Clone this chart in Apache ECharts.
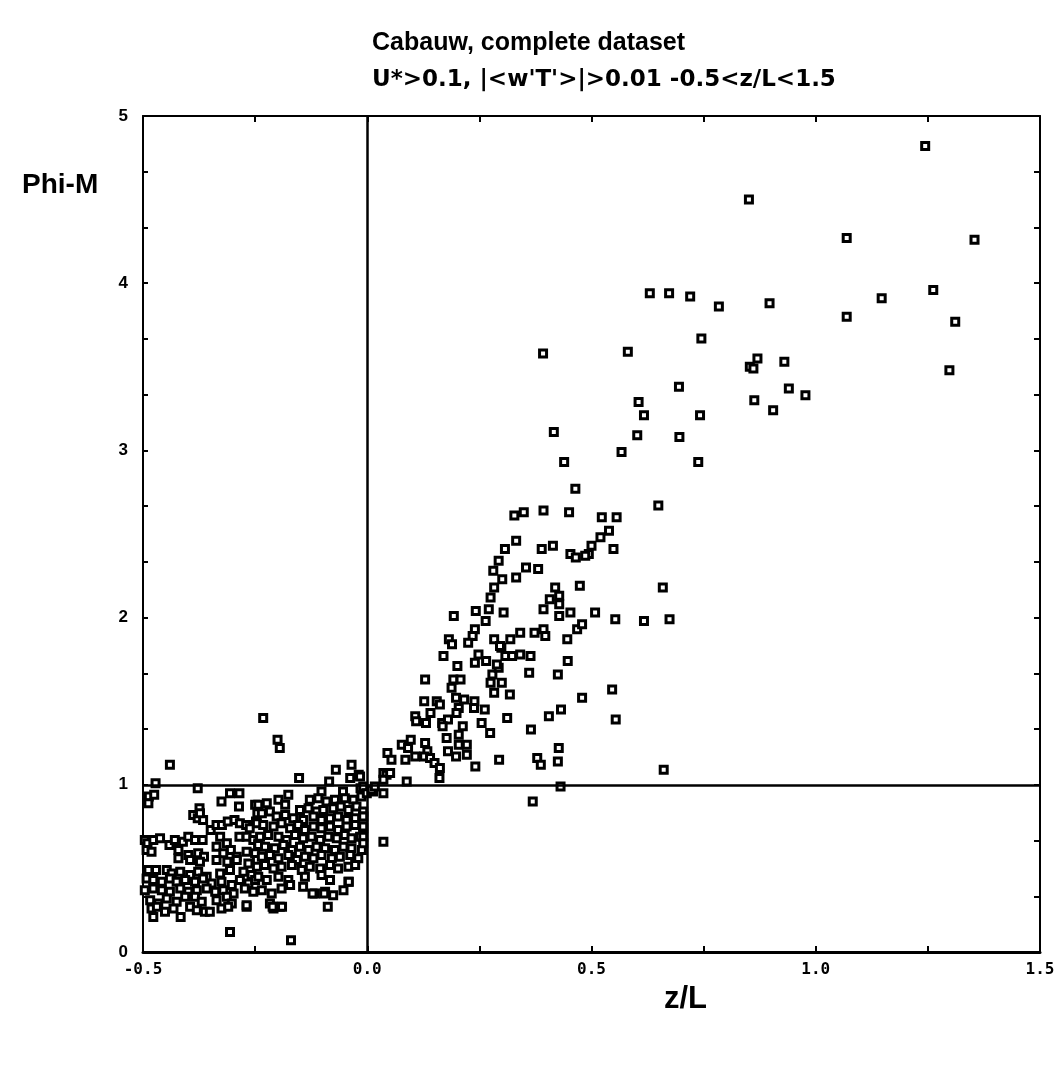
<!DOCTYPE html>
<html>
<head>
<meta charset="utf-8">
<script src="https://cdn.jsdelivr.net/npm/echarts@6/dist/echarts.min.js"></script>
<style>html,body{margin:0;padding:0;background:#fff}#c{width:1059px;height:1068px}</style>
</head>
<body>
<div id="c"></div>
<script>
const titleLines = ["Cabauw, complete dataset", "U*>0.1, |<w'T'>|>0.01 -0.5<z/L<1.5"];
const xAxisName = "z/L";
const yAxisName = "Phi-M";
const xTicks = [-0.5, 0.0, 0.5, 1.0, 1.5];
const yTicks = [0, 1, 2, 3, 4, 5];

// unstable side, left half of cluster
const unstableLeft = [
[-0.487,0.93],[-0.475,0.94],[-0.488,0.89],[-0.306,0.95],[-0.285,0.95],[-0.325,0.90],
[-0.286,0.87],[-0.250,0.88],[-0.245,0.83],[-0.374,0.86],[-0.388,0.82],[-0.378,0.80],[-0.366,0.79],[-0.373,0.83],[-0.248,0.78],
[-0.349,0.73],[-0.336,0.76],[-0.324,0.76],[-0.311,0.78],[-0.296,0.79],[-0.284,0.77],[-0.270,0.76],[-0.262,0.74],
[-0.496,0.67],[-0.490,0.65],[-0.477,0.67],[-0.462,0.68],[-0.441,0.64],[-0.429,0.67],[-0.411,0.66],[-0.399,0.69],[-0.384,0.67],[-0.367,0.67],[-0.328,0.69],[-0.313,0.65],[-0.285,0.69],[-0.269,0.69],[-0.254,0.67],[-0.243,0.65],
[-0.492,0.61],[-0.481,0.60],[-0.421,0.61],[-0.399,0.58],[-0.377,0.59],[-0.364,0.57],[-0.336,0.63],[-0.321,0.59],[-0.304,0.61],[-0.291,0.57],[-0.269,0.60],[-0.250,0.59],
[-0.421,0.56],[-0.395,0.55],[-0.373,0.54],[-0.336,0.55],[-0.312,0.54],[-0.291,0.55],[-0.265,0.53],[-0.246,0.55],
[-0.488,0.49],[-0.471,0.49],[-0.447,0.49],[-0.436,0.47],[-0.417,0.48],[-0.395,0.46],[-0.377,0.48],[-0.358,0.45],[-0.328,0.47],[-0.306,0.49],[-0.276,0.48],[-0.258,0.46],
[-0.492,0.44],[-0.477,0.43],[-0.458,0.42],[-0.440,0.44],[-0.425,0.42],[-0.406,0.43],[-0.384,0.42],[-0.366,0.44],[-0.347,0.41],[-0.325,0.42],[-0.302,0.40],[-0.284,0.43],[-0.265,0.41],[-0.250,0.43],
[-0.496,0.37],[-0.477,0.38],[-0.458,0.37],[-0.440,0.36],[-0.417,0.38],[-0.399,0.36],[-0.380,0.37],[-0.358,0.38],[-0.339,0.36],[-0.321,0.37],[-0.298,0.35],[-0.273,0.38],[-0.254,0.36],
[-0.484,0.31],[-0.466,0.29],[-0.447,0.32],[-0.425,0.30],[-0.406,0.33],[-0.384,0.33],[-0.369,0.30],[-0.336,0.31],[-0.313,0.33],[-0.302,0.29],
[-0.481,0.26],[-0.469,0.27],[-0.451,0.24],[-0.432,0.26],[-0.395,0.27],[-0.380,0.25],[-0.362,0.24],[-0.351,0.24],[-0.325,0.26],[-0.310,0.27],[-0.269,0.27],
[-0.477,0.21],[-0.416,0.21],[-0.306,0.12],[-0.269,0.28]
];

// unstable side, right half of cluster
const unstableRight = [
[0.006,0.97],[-0.102,0.96],[-0.054,0.96],[-0.015,0.98],[-0.176,0.94],[-0.198,0.91],[-0.224,0.89],[-0.243,0.88],
[-0.128,0.91],[-0.109,0.92],[-0.091,0.90],[-0.072,0.91],[-0.050,0.92],[-0.031,0.91],[-0.013,0.93],
[-0.183,0.88],[-0.150,0.85],[-0.131,0.86],[-0.113,0.84],[-0.098,0.85],[-0.076,0.86],[-0.059,0.87],[-0.042,0.85],[-0.024,0.87],[-0.009,0.84],
[-0.235,0.83],[-0.217,0.84],[-0.202,0.81],[-0.183,0.82],[-0.165,0.80],[-0.143,0.79],[-0.120,0.81],[-0.102,0.79],[-0.083,0.80],[-0.065,0.81],[-0.046,0.79],[-0.027,0.80],[-0.009,0.81],
[-0.246,0.77],[-0.232,0.76],[-0.209,0.75],[-0.191,0.77],[-0.172,0.74],[-0.154,0.76],[-0.139,0.73],[-0.120,0.75],[-0.102,0.74],[-0.083,0.75],[-0.065,0.73],[-0.046,0.75],[-0.027,0.76],[-0.009,0.74],
[-0.239,0.69],[-0.221,0.70],[-0.198,0.69],[-0.180,0.67],[-0.161,0.70],[-0.143,0.68],[-0.124,0.69],[-0.105,0.67],[-0.087,0.69],[-0.068,0.68],[-0.050,0.70],[-0.035,0.68],[-0.016,0.69],
[-0.243,0.64],[-0.228,0.63],[-0.206,0.62],[-0.187,0.64],[-0.168,0.61],[-0.150,0.63],[-0.131,0.61],[-0.113,0.63],[-0.094,0.62],[-0.072,0.61],[-0.053,0.63],[-0.035,0.62],[-0.012,0.61],
[-0.235,0.57],[-0.217,0.58],[-0.198,0.56],[-0.176,0.58],[-0.157,0.55],[-0.139,0.57],[-0.120,0.56],[-0.102,0.58],[-0.079,0.56],[-0.061,0.57],[-0.038,0.58],[-0.020,0.56],
[-0.246,0.51],[-0.228,0.52],[-0.209,0.50],[-0.191,0.51],[-0.168,0.52],[-0.146,0.49],[-0.128,0.51],[-0.105,0.50],[-0.083,0.52],[-0.065,0.50],[-0.042,0.51],[-0.027,0.52],
[-0.243,0.45],[-0.224,0.43],[-0.198,0.45],[-0.176,0.43],[-0.139,0.45],[-0.102,0.46],[-0.083,0.43],[-0.042,0.42],
[-0.235,0.37],[-0.213,0.35],[-0.191,0.38],[-0.172,0.40],[-0.143,0.39],[-0.117,0.35],[-0.094,0.36],[-0.076,0.34],[-0.053,0.37],
[-0.217,0.29],[-0.209,0.26],[-0.195,0.27],[-0.088,0.27],[-0.170,0.07],[-0.122,0.35],[-0.096,0.35],[-0.041,0.42],
[-0.211,0.27],[-0.190,0.27],[-0.009,0.81],[-0.009,0.75],[-0.009,0.69],[-0.009,0.65]
];

// unstable side, scattered points above the bulk
const unstableOutliers = [
[-0.232,1.40],[-0.200,1.27],[-0.195,1.22],[-0.440,1.12],[-0.472,1.01],[-0.378,0.98],[-0.152,1.04],
[-0.070,1.09],[-0.035,1.12],[-0.019,1.06],[-0.038,1.04],[-0.085,1.02],[-0.016,1.05],[-0.009,0.99],[-0.001,0.95]
];

// stable side, near neutral
const stableLow = [
[0.077,1.24],[0.097,1.27],[0.091,1.22],[0.107,1.17],[0.085,1.15],[0.129,1.25],[0.134,1.20],[0.127,1.17],[0.140,1.16],
[0.150,1.13],[0.162,1.10],[0.161,1.04],[0.088,1.02],[0.177,1.28],[0.204,1.24],[0.180,1.20],[0.198,1.17],[0.222,1.24],
[0.222,1.18],[0.241,1.11],[0.294,1.15],[0.379,1.16],[0.387,1.12],[0.427,1.22],[0.425,1.14],[0.431,0.99],[0.369,0.90],
[0.045,1.19],[0.054,1.15],[0.036,1.07],[0.043,1.06],[0.036,1.03],[0.036,0.95],[0.013,0.96],[0.036,0.66],[0.546,1.57],
[0.554,1.39],[0.661,1.09],[0.010,0.97],[0.017,0.99],[0.051,1.07]
];

// stable side, middle band
const stableMid = [
[0.170,1.77],[0.201,1.71],[0.129,1.63],[0.192,1.63],[0.208,1.63],[0.188,1.58],[0.198,1.52],[0.216,1.51],[0.239,1.50],
[0.238,1.46],[0.262,1.45],[0.204,1.46],[0.199,1.43],[0.127,1.50],[0.155,1.50],[0.162,1.48],[0.141,1.43],[0.107,1.41],
[0.109,1.38],[0.131,1.37],[0.167,1.37],[0.180,1.39],[0.168,1.35],[0.213,1.35],[0.204,1.30],[0.255,1.37],[0.274,1.31],
[0.312,1.40],[0.365,1.33],[0.405,1.41],[0.432,1.45],[0.479,1.52],[0.425,1.66],[0.447,1.74],[0.361,1.67],[0.318,1.54],
[0.300,1.61],[0.283,1.55],[0.275,1.61],[0.279,1.66],[0.293,1.70],[0.289,1.72],[0.240,1.73],[0.265,1.74],[0.248,1.78],
[0.299,1.82],[0.308,1.77],[0.323,1.77],[0.341,1.78],[0.364,1.77],
[0.182,1.87],[0.189,1.84],[0.240,1.93],[0.235,1.89],[0.225,1.85],[0.283,1.87],[0.296,1.83],[0.319,1.87],[0.341,1.91],
[0.373,1.91],[0.393,1.93],[0.397,1.89],[0.446,1.87],[0.468,1.93],[0.479,1.96],
[0.193,2.01],[0.242,2.04],[0.271,2.05],[0.264,1.98],[0.304,2.03],[0.393,2.05],[0.428,2.01],[0.453,2.03],[0.508,2.03],
[0.553,1.99],[0.617,1.98],[0.674,1.99],
[0.283,2.18],[0.275,2.12],[0.419,2.18],[0.428,2.13],[0.407,2.11],[0.428,2.08],[0.474,2.19],[0.659,2.18],
[0.293,2.34],[0.281,2.28],[0.301,2.23],[0.354,2.30],[0.381,2.29],[0.332,2.24],
[0.332,2.46],[0.307,2.41],[0.389,2.41],[0.414,2.43],[0.453,2.38],[0.465,2.36],[0.549,2.41],
[0.500,2.43],[0.494,2.38],[0.486,2.37],[0.539,2.52],[0.520,2.48],
[0.328,2.61],[0.349,2.63],[0.393,2.64]
];

// stable side, upper part
const stableHigh = [
[1.244,4.82],[0.851,4.50],[1.069,4.27],[1.354,4.26],[0.630,3.94],[0.673,3.94],[0.720,3.92],[0.784,3.86],[0.897,3.88],
[1.069,3.80],[1.147,3.91],[1.262,3.96],[1.311,3.77],[1.298,3.48],[0.745,3.67],[0.581,3.59],[0.870,3.55],[0.853,3.50],
[0.861,3.49],[0.930,3.53],[0.940,3.37],[0.977,3.33],[0.863,3.30],[0.905,3.24],[0.695,3.38],[0.605,3.29],[0.617,3.21],
[0.742,3.21],[0.602,3.09],[0.696,3.08],[0.567,2.99],[0.738,2.93],[0.416,3.11],[0.439,2.93],[0.464,2.77],[0.450,2.63],
[0.523,2.60],[0.556,2.60],[0.649,2.67],[0.392,3.58]
];

const allPoints = [].concat(unstableLeft, unstableRight, unstableOutliers, stableLow, stableMid, stableHigh);

const chart = echarts.init(document.getElementById('c'), null, {renderer: 'canvas'});
const isOn = (v, step) => Math.abs(v / step - Math.round(v / step)) < 1e-6;
const sansBold = {fontFamily: 'Liberation Sans, Arial, sans-serif', fontWeight: 'bold', color: '#000'};

chart.setOption({
  backgroundColor: '#fff',
  animation: false,
  title: {
    text: '{a|' + titleLines[0] + '}\n{b|' + titleLines[1] + '}',
    left: 367, top: 20,
    textStyle: {
      rich: {
        a: {fontSize: 25, lineHeight: 37, fontWeight: 'bold', fontFamily: 'Liberation Sans, Arial, sans-serif', color: '#000'},
        b: {fontSize: 23, lineHeight: 37, fontWeight: 'bold', fontFamily: 'DejaVu Sans, sans-serif', color: '#000'}
      }
    }
  },
  grid: {left: 143, right: 19, top: 116, bottom: 116, containLabel: false},
  xAxis: [{
    type: 'value', min: -0.5, max: 1.5, interval: 0.25, position: 'bottom',
    axisLine: {show: true, onZero: false, lineStyle: {color: '#000', width: 3}},
    axisTick: {show: true, inside: true, length: 6, lineStyle: {color: '#000', width: 2}},
    splitLine: {show: false},
    axisLabel: {
      margin: 10, fontSize: 16, fontWeight: 'bold', fontFamily: 'DejaVu Sans Mono, monospace', color: '#000',
      formatter: v => (isOn(v, 0.5) && xTicks.some(t => Math.abs(t - v) < 1e-6)) ? v.toFixed(1) : ''
    }
  }, {
    type: 'value', min: -0.5, max: 1.5, interval: 0.25, position: 'top',
    axisLine: {show: true, onZero: false, lineStyle: {color: '#000', width: 2}},
    axisTick: {show: true, inside: true, length: 6, lineStyle: {color: '#000', width: 2}},
    splitLine: {show: false}, axisLabel: {show: false}
  }],
  yAxis: [{
    type: 'value', min: 0, max: 5, interval: 1 / 3, position: 'left',
    axisLine: {show: true, onZero: false, lineStyle: {color: '#000', width: 2}},
    axisTick: {show: true, inside: true, length: 5, lineStyle: {color: '#000', width: 2}},
    splitLine: {show: false},
    axisLabel: Object.assign({
      margin: 15, fontSize: 17,
      formatter: v => { const r = Math.round(v); return (isOn(v, 1) && yTicks.indexOf(r) >= 0) ? String(r) : ''; }
    }, sansBold)
  }, {
    type: 'value', min: 0, max: 5, interval: 1 / 3, position: 'right',
    axisLine: {show: true, onZero: false, lineStyle: {color: '#000', width: 2}},
    axisTick: {show: true, inside: true, length: 6, lineStyle: {color: '#000', width: 2}},
    splitLine: {show: false}, axisLabel: {show: false}
  }],
  graphic: [
    {type: 'text', left: 22, top: 171, style: {text: yAxisName, fontSize: 28, fontFamily: 'Liberation Sans, Arial, sans-serif', fontWeight: 'bold', fill: '#000'}},
    {type: 'text', left: 664, top: 984, style: {text: xAxisName, fontSize: 31, fontFamily: 'Liberation Sans, Arial, sans-serif', fontWeight: 'bold', fill: '#000'}}
  ],
  series: [{
    type: 'scatter',
    xAxisIndex: 0, yAxisIndex: 0,
    data: allPoints,
    symbol: 'rect',
    symbolSize: 7,
    itemStyle: {color: '#fff', borderColor: '#000', borderWidth: 3, opacity: 1},
    emphasis: {disabled: true},
    markLine: {
      silent: true, symbol: ['none', 'none'], animation: false,
      label: {show: false},
      lineStyle: {color: '#000', width: 2.5, type: 'solid'},
      data: [{xAxis: 0}, {yAxis: 1}]
    }
  }]
});
</script>
</body>
</html>
